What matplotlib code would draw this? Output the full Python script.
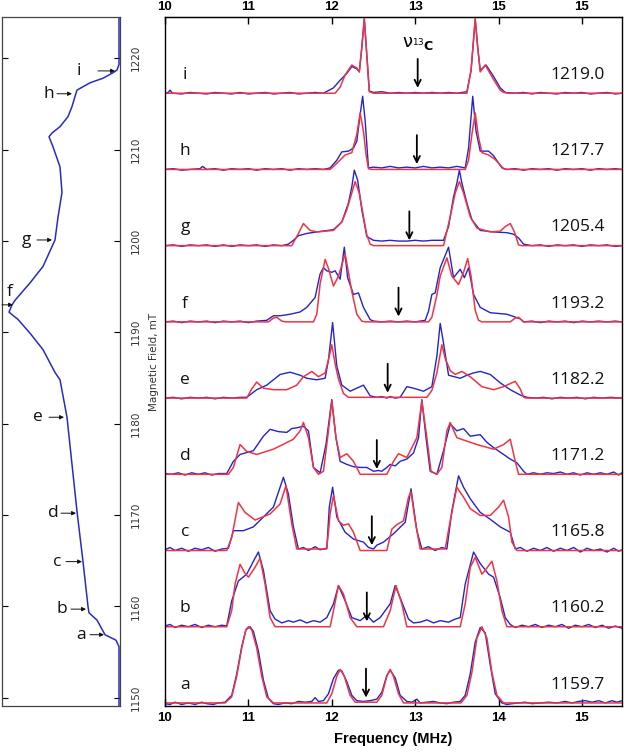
import matplotlib
matplotlib.use("Agg")
import matplotlib.pyplot as plt

# ---- left panel: field-swept spectrum (signal vs field, mT) ----
field_mT = [1149.0, 1155.6, 1156.3, 1156.9, 1158.5, 1159.3, 1160.0, 1164.9, 1170.4,
            1180.7, 1184.8, 1185.6, 1188.1, 1189.9, 1191.4, 1192.2, 1193.0, 1193.5,
            1195.4, 1197.2, 1200.1, 1202.6, 1205.3, 1208.1, 1210.3, 1211.4, 1211.8,
            1212.5, 1213.6, 1214.7, 1215.8, 1216.5, 1217.3, 1217.8, 1218.4, 1218.7,
            1219.3, 1225.0]
signal = [0.0, 0.0, 0.03, 0.14, 0.22, 0.30, 0.31, 0.36, 0.42,
          0.52, 0.59, 0.64, 0.76, 0.89, 1.01, 1.10, 1.07, 1.04,
          0.89, 0.76, 0.64, 0.61, 0.57, 0.59, 0.66, 0.70, 0.67,
          0.59, 0.51, 0.47, 0.44, 0.42, 0.29, 0.16, 0.06, 0.02,
          0.0, 0.0]
mark_letters = ["a", "b", "c", "d", "e", "f", "g", "h", "i"]
mark_text_sig = [0.38, 0.57, 0.62, 0.66, 0.81, 1.09, 0.93, 0.70, 0.40]
mark_text_fld = [1156.9, 1159.7, 1164.9, 1170.2, 1180.7, 1194.4, 1200.1, 1216.1, 1218.6]
mark_arrow_from = [0.29, 0.48, 0.53, 0.58, 0.70, 1.17, 0.82, 0.62, 0.21]
mark_arrow_to = [0.15, 0.33, 0.37, 0.43, 0.55, 1.06, 0.67, 0.47, 0.04]
mark_arrow_fld = [1156.9, 1159.7, 1164.9, 1170.2, 1180.7, 1193.0, 1200.1, 1216.1, 1218.6]

# ---- right panel: ENDOR spectra (experiment blue, simulation red) ----
panel_letters = ["a", "b", "c", "d", "e", "f", "g", "h", "i"]
panel_fields = ["1159.7", "1160.2", "1165.8", "1171.2", "1182.2", "1193.2", "1205.4", "1217.7", "1219.0"]
nu13c = [12.41, 12.42, 12.48, 12.54, 12.67, 12.80, 12.93, 13.02, 13.03]

red_a = [(10.0, 0), (10.72, 0), (10.8, 0.08), (10.86, 0.35), (10.92, 0.72), (10.97, 0.96), (11.0, 1.0),
         (11.04, 0.96), (11.1, 0.72), (11.16, 0.35), (11.22, 0.08), (11.3, 0), (11.94, 0), (12.0, 0.12),
         (12.06, 0.35), (12.1, 0.44), (12.15, 0.35), (12.22, 0.1), (12.28, 0.01), (12.54, 0.01), (12.6, 0.1),
         (12.66, 0.35), (12.7, 0.44), (12.74, 0.35), (12.8, 0.12), (12.86, 0), (13.55, 0), (13.62, 0.1),
         (13.68, 0.4), (13.74, 0.85), (13.8, 1.0), (13.86, 0.85), (13.92, 0.4), (13.98, 0.1), (14.06, 0),
         (15.48, 0)]
blue_a = [(10.0, -0.01), (10.06, -0.02), (10.12, 0.01), (10.2, -0.02), (10.28, 0.0), (10.36, -0.02),
          (10.44, 0.01), (10.5, -0.01), (10.58, -0.02), (10.64, 0.0), (10.72, 0.01), (10.8, 0.1),
          (10.86, 0.38), (10.92, 0.74), (10.97, 0.96), (11.02, 1.0), (11.06, 0.94), (11.12, 0.68),
          (11.18, 0.3), (11.24, 0.06), (11.3, -0.01), (11.36, -0.02), (11.44, 0.0), (11.52, -0.01),
          (11.6, 0.02), (11.68, 0.01), (11.76, 0.02), (11.8, 0.07), (11.84, 0.02), (11.9, 0.03),
          (11.96, 0.12), (12.02, 0.32), (12.08, 0.43), (12.12, 0.42), (12.18, 0.28), (12.24, 0.1),
          (12.3, 0.03), (12.38, 0.02), (12.46, 0.03), (12.54, 0.05), (12.6, 0.14), (12.66, 0.36),
          (12.7, 0.43), (12.76, 0.33), (12.82, 0.1), (12.9, 0.02), (12.96, 0.01), (13.02, 0.05),
          (13.06, 0.0), (13.14, 0.01), (13.22, 0.02), (13.3, 0.0), (13.38, -0.01), (13.46, 0.01),
          (13.54, 0.02), (13.6, 0.1), (13.66, 0.38), (13.72, 0.8), (13.78, 0.99), (13.84, 0.92),
          (13.9, 0.5), (13.96, 0.12), (14.04, 0.0), (14.1, -0.02), (14.16, -0.01), (14.24, 0.0),
          (14.32, 0.01), (14.4, -0.01), (14.5, 0.0), (14.6, 0.01), (14.7, 0.0), (14.8, 0.02),
          (14.88, 0.0), (14.96, 0.02), (15.04, 0.03), (15.12, 0.01), (15.2, 0.03), (15.28, 0.0),
          (15.36, 0.03), (15.42, 0.01), (15.48, 0.03)]

red_b = [(10.0, 0), (10.74, 0), (10.8, 0.21), (10.84, 0.56), (10.9, 0.82), (10.96, 0.7), (11.0, 0.65),
         (11.08, 0.78), (11.14, 0.9), (11.2, 0.56), (11.26, 0.12), (11.32, 0), (11.98, 0), (12.02, 0.21),
         (12.08, 0.54), (12.14, 0.43), (12.22, 0.12), (12.3, 0), (12.62, 0), (12.7, 0.21), (12.77, 0.54),
         (12.84, 0.3), (12.9, 0), (13.54, 0), (13.6, 0.3), (13.66, 0.78), (13.72, 0.91), (13.8, 0.69),
         (13.84, 0.74), (13.92, 0.86), (13.98, 0.6), (14.04, 0.21), (14.1, 0), (15.48, 0)]
blue_b = [(10.0, 0.01), (10.06, 0.03), (10.12, -0.01), (10.2, 0.02), (10.28, 0.0), (10.36, 0.03),
          (10.44, -0.01), (10.52, 0.02), (10.6, 0.0), (10.68, 0.02), (10.74, 0.01), (10.8, 0.34),
          (10.88, 0.6), (10.98, 0.69), (11.08, 0.9), (11.12, 0.98), (11.18, 0.74), (11.26, 0.21),
          (11.32, 0.1), (11.4, 0.05), (11.48, 0.08), (11.54, 0.06), (11.62, 0.09), (11.7, 0.05),
          (11.78, 0.08), (11.86, 0.06), (11.94, 0.12), (12.02, 0.3), (12.08, 0.54), (12.16, 0.34),
          (12.24, 0.12), (12.34, 0.08), (12.42, 0.15), (12.5, 0.06), (12.58, 0.12), (12.7, 0.3),
          (12.76, 0.54), (12.82, 0.38), (12.92, 0.1), (12.98, 0.05), (13.06, 0.06), (13.14, 0.09),
          (13.22, 0.05), (13.3, 0.08), (13.4, 0.06), (13.48, 0.1), (13.54, 0.12), (13.6, 0.56),
          (13.7, 0.98), (13.78, 0.83), (13.88, 0.69), (13.94, 0.65), (14.02, 0.38), (14.08, 0.12),
          (14.14, 0.03), (14.2, -0.01), (14.28, 0.02), (14.36, 0.0), (14.44, 0.03), (14.52, -0.01),
          (14.6, 0.02), (14.68, 0.0), (14.76, 0.03), (14.84, -0.02), (14.92, 0.02), (15.0, 0.0),
          (15.08, 0.03), (15.16, -0.01), (15.24, 0.02), (15.32, -0.02), (15.4, 0.01), (15.48, -0.02)]

red_c = [(10.0, 0), (10.74, 0), (10.8, 0.17), (10.88, 0.63), (10.96, 0.5), (11.08, 0.4), (11.26, 0.48),
         (11.38, 0.61), (11.45, 0.85), (11.52, 0.35), (11.58, 0.02), (11.94, 0.02), (11.98, 0.48),
         (12.02, 0.72), (12.08, 0.39), (12.14, 0.33), (12.2, 0.35), (12.26, 0.24), (12.34, 0),
         (12.66, 0), (12.72, 0.28), (12.78, 0.34), (12.86, 0.39), (12.92, 0.7), (12.95, 0.77),
         (13.0, 0.39), (13.06, 0.02), (13.36, 0.02), (13.42, 0.39), (13.5, 0.83), (13.58, 0.7),
         (13.66, 0.55), (13.78, 0.46), (13.9, 0.46), (14.0, 0.57), (14.06, 0.66), (14.12, 0.44),
         (14.16, 0.11), (14.22, 0), (15.48, 0)]
blue_c = [(10.0, 0.01), (10.06, 0.04), (10.12, 0.0), (10.2, 0.03), (10.28, -0.01), (10.36, 0.03),
          (10.44, 0.01), (10.52, 0.04), (10.6, -0.01), (10.68, 0.02), (10.76, 0.03), (10.82, 0.26),
          (10.94, 0.26), (11.06, 0.31), (11.18, 0.44), (11.3, 0.57), (11.42, 0.96), (11.48, 0.74),
          (11.54, 0.31), (11.6, 0.02), (11.66, 0.04), (11.72, 0.0), (11.8, 0.05), (11.86, 0.01),
          (11.94, 0.03), (11.97, 0.57), (12.01, 0.83), (12.06, 0.44), (12.16, 0.24), (12.26, 0.15),
          (12.38, 0.11), (12.44, 0.04), (12.5, 0.02), (12.54, 0.07), (12.62, 0.11), (12.74, 0.22),
          (12.88, 0.37), (12.95, 0.81), (13.02, 0.26), (13.08, 0.02), (13.16, 0.05), (13.24, 0.0),
          (13.32, 0.04), (13.38, 0.02), (13.44, 0.52), (13.52, 0.98), (13.58, 0.83), (13.66, 0.68),
          (13.78, 0.5), (13.9, 0.41), (14.02, 0.31), (14.14, 0.24), (14.2, 0.02), (14.26, 0.04),
          (14.34, -0.01), (14.42, 0.03), (14.5, 0.0), (14.58, 0.04), (14.66, -0.01), (14.74, 0.03),
          (14.82, 0.0), (14.9, 0.04), (14.98, -0.02), (15.06, 0.03), (15.14, 0.0), (15.22, 0.02),
          (15.3, -0.02), (15.38, 0.03), (15.44, -0.01), (15.48, 0.01)]

red_d = [(10.0, 0), (10.76, 0), (10.82, 0.09), (10.9, 0.39), (10.98, 0.3), (11.1, 0.26), (11.3, 0.33),
         (11.54, 0.46), (11.62, 0.57), (11.66, 0.68), (11.72, 0.48), (11.78, 0.09), (11.84, 0),
         (11.9, 0.04), (11.95, 0.48), (12.0, 0.96), (12.05, 0.48), (12.1, 0.22), (12.18, 0.27),
         (12.26, 0.17), (12.34, 0), (12.66, 0), (12.74, 0.17), (12.8, 0.27), (12.9, 0.22),
         (13.02, 0.48), (13.08, 0.96), (13.14, 0.48), (13.19, 0.04), (13.26, 0), (13.32, 0.09),
         (13.38, 0.57), (13.42, 0.68), (13.5, 0.48), (13.74, 0.39), (13.94, 0.33), (14.06, 0.39),
         (14.14, 0.46), (14.2, 0.17), (14.24, 0), (15.48, 0)]
blue_d = [(10.0, 0.01), (10.08, 0.0), (10.16, 0.02), (10.24, -0.01), (10.32, 0.02), (10.4, 0.0),
          (10.48, 0.02), (10.56, -0.01), (10.64, 0.01), (10.74, 0.01), (10.82, 0.17), (10.9, 0.26),
          (11.06, 0.31), (11.18, 0.5), (11.26, 0.59), (11.36, 0.56), (11.46, 0.55), (11.52, 0.6),
          (11.58, 0.61), (11.66, 0.63), (11.72, 0.57), (11.78, 0.09), (11.86, 0.02), (11.93, 0.39),
          (12.0, 0.98), (12.05, 0.48), (12.1, 0.17), (12.18, 0.13), (12.26, 0.1), (12.34, 0.09),
          (12.42, 0.09), (12.5, 0.04), (12.56, 0.05), (12.6, 0.04), (12.66, 0.09), (12.7, 0.13),
          (12.76, 0.11), (12.82, 0.17), (12.9, 0.2), (12.98, 0.28), (13.04, 0.48), (13.08, 0.98),
          (13.13, 0.48), (13.18, 0.04), (13.26, 0.0), (13.34, 0.31), (13.42, 0.66), (13.5, 0.57),
          (13.58, 0.6), (13.66, 0.5), (13.78, 0.52), (13.86, 0.42), (13.94, 0.35), (14.06, 0.26),
          (14.14, 0.2), (14.22, 0.15), (14.3, 0.04), (14.34, 0.0), (14.42, 0.02), (14.5, 0.0),
          (14.58, 0.02), (14.66, 0.01), (14.74, 0.03), (14.82, 0.0), (14.9, 0.02), (14.98, -0.01),
          (15.06, 0.02), (15.14, 0.0), (15.22, 0.02), (15.3, 0.0), (15.38, 0.03), (15.44, -0.01),
          (15.48, 0.02)]

red_e = [(10.0, 0), (10.98, 0), (11.04, 0.12), (11.1, 0.21), (11.18, 0.13), (11.3, 0.11),
         (11.46, 0.11), (11.58, 0.17), (11.66, 0.28), (11.76, 0.35), (11.84, 0.28), (11.92, 0.33),
         (11.97, 0.55), (12.0, 0.7), (12.04, 0.45), (12.08, 0.25), (12.14, 0.06), (12.2, 0.01),
         (13.14, 0.01), (13.2, 0.1), (13.26, 0.33), (13.32, 0.7), (13.36, 0.52), (13.42, 0.36),
         (13.48, 0.31), (13.56, 0.35), (13.66, 0.28), (13.8, 0.15), (13.94, 0.11), (14.06, 0.15),
         (14.2, 0.22), (14.26, 0.12), (14.3, 0.01), (14.34, 0), (15.48, 0)]
blue_e = [(10.0, 0.0), (10.1, 0.01), (10.2, -0.01), (10.3, 0.01), (10.4, 0.0), (10.5, 0.01),
          (10.6, -0.01), (10.7, 0.01), (10.8, 0.0), (10.9, 0.01), (10.98, 0.01), (11.1, 0.11),
          (11.22, 0.17), (11.38, 0.31), (11.5, 0.34), (11.62, 0.3), (11.7, 0.26), (11.82, 0.24),
          (11.92, 0.26), (11.96, 0.5), (12.01, 0.99), (12.06, 0.42), (12.12, 0.17), (12.22, 0.09),
          (12.3, 0.13), (12.38, 0.17), (12.46, 0.03), (12.54, 0.01), (12.6, 0.02), (12.66, 0.0),
          (12.7, 0.02), (12.76, 0.0), (12.82, 0.01), (12.9, 0.15), (12.98, 0.13), (13.1, 0.09),
          (13.2, 0.15), (13.26, 0.55), (13.3, 0.98), (13.34, 0.72), (13.4, 0.3), (13.54, 0.26),
          (13.62, 0.3), (13.7, 0.33), (13.78, 0.35), (13.9, 0.31), (14.02, 0.2), (14.14, 0.11),
          (14.26, 0.04), (14.34, 0.01), (14.44, 0.0), (14.54, 0.01), (14.64, -0.01), (14.74, 0.01),
          (14.84, 0.0), (14.94, 0.01), (15.04, -0.01), (15.14, 0.01), (15.24, 0.0), (15.34, 0.01),
          (15.48, 0.0)]

red_f = [(10.0, 0), (11.24, 0), (11.3, 0.05), (11.34, 0.06), (11.4, 0.01), (11.45, 0), (11.78, 0),
         (11.82, 0.1), (11.86, 0.5), (11.92, 0.82), (11.96, 0.7), (12.02, 0.47), (12.08, 0.6),
         (12.16, 0.89), (12.2, 0.65), (12.24, 0.4), (12.3, 0.1), (12.36, 0.01), (12.4, 0),
         (13.16, 0), (13.2, 0.06), (13.26, 0.35), (13.3, 0.6), (13.38, 0.84), (13.44, 0.6),
         (13.52, 0.49), (13.58, 0.65), (13.63, 0.83), (13.67, 0.6), (13.72, 0.15), (13.76, 0.02),
         (13.8, 0), (14.14, 0), (14.2, 0.05), (14.24, 0.06), (14.3, 0), (15.48, 0)]
blue_f = [(10.0, 0.0), (10.1, 0.01), (10.2, -0.01), (10.3, 0.01), (10.4, 0.0), (10.5, 0.01),
          (10.6, -0.01), (10.7, 0.01), (10.8, 0.0), (10.9, 0.01), (11.0, -0.01), (11.1, 0.01),
          (11.22, 0.02), (11.3, 0.08), (11.38, 0.08), (11.5, 0.1), (11.62, 0.13), (11.7, 0.19),
          (11.8, 0.32), (11.86, 0.63), (11.9, 0.71), (11.94, 0.67), (12.0, 0.65), (12.04, 0.67),
          (12.1, 0.56), (12.15, 0.98), (12.19, 0.58), (12.26, 0.36), (12.32, 0.38), (12.38, 0.19),
          (12.46, 0.03), (12.5, 0.01), (12.6, 0.0), (12.7, 0.01), (12.8, 0.0), (12.9, 0.01),
          (13.0, 0.0), (13.12, 0.02), (13.16, 0.14), (13.2, 0.36), (13.24, 0.38), (13.3, 0.71),
          (13.4, 0.98), (13.46, 0.58), (13.54, 0.69), (13.59, 0.58), (13.64, 0.71), (13.7, 0.36),
          (13.78, 0.19), (13.9, 0.12), (14.1, 0.1), (14.26, 0.04), (14.3, 0.0), (14.4, 0.01),
          (14.5, -0.01), (14.6, 0.01), (14.7, 0.0), (14.8, 0.01), (14.9, -0.01), (15.0, 0.01),
          (15.1, 0.0), (15.2, 0.01), (15.3, 0.0), (15.4, 0.01), (15.48, 0.0)]

red_g = [(10.0, 0), (11.52, 0), (11.6, 0.16), (11.66, 0.29), (11.74, 0.2), (11.82, 0.18),
         (12.02, 0.2), (12.12, 0.31), (12.18, 0.47), (12.24, 0.69), (12.28, 0.84), (12.33, 0.69),
         (12.38, 0.38), (12.42, 0.14), (12.46, 0.02), (12.5, 0), (13.34, 0), (13.42, 0.38),
         (13.48, 0.69), (13.53, 0.84), (13.58, 0.69), (13.66, 0.38), (13.74, 0.23), (13.9, 0.18),
         (14.02, 0.19), (14.08, 0.25), (14.14, 0.29), (14.19, 0.18), (14.24, 0.01), (14.28, 0),
         (15.48, 0)]
blue_g = [(10.0, 0.0), (10.1, 0.01), (10.2, -0.01), (10.3, 0.01), (10.4, 0.0), (10.5, 0.01),
          (10.6, -0.01), (10.7, 0.01), (10.8, -0.01), (10.9, 0.01), (11.0, 0.0), (11.1, 0.01),
          (11.2, -0.01), (11.3, 0.01), (11.4, 0.0), (11.48, 0.02), (11.54, 0.07), (11.6, 0.13),
          (11.7, 0.16), (11.82, 0.18), (12.02, 0.21), (12.12, 0.31), (12.2, 0.56), (12.24, 0.77),
          (12.27, 0.99), (12.31, 0.86), (12.36, 0.47), (12.42, 0.12), (12.5, 0.07), (12.6, 0.06),
          (12.7, 0.07), (12.8, 0.06), (12.9, 0.06), (13.0, 0.07), (13.1, 0.06), (13.2, 0.07),
          (13.34, 0.07), (13.4, 0.25), (13.46, 0.64), (13.5, 0.82), (13.53, 0.99), (13.56, 0.82),
          (13.62, 0.56), (13.68, 0.34), (13.78, 0.2), (13.94, 0.18), (14.1, 0.17), (14.18, 0.15),
          (14.24, 0.1), (14.3, 0.02), (14.4, 0.0), (14.5, 0.01), (14.6, -0.01), (14.7, 0.01),
          (14.8, 0.0), (14.9, 0.01), (15.0, -0.01), (15.1, 0.01), (15.2, 0.0), (15.3, 0.01),
          (15.4, -0.01), (15.48, 0.0)]

red_h = [(10.0, 0), (11.98, 0), (12.06, 0.08), (12.16, 0.19), (12.24, 0.22), (12.3, 0.46),
         (12.34, 0.74), (12.38, 0.5), (12.41, 0.2), (12.44, 0.01), (12.48, 0), (13.6, 0),
         (13.64, 0.12), (13.68, 0.46), (13.72, 0.74), (13.76, 0.42), (13.8, 0.22), (13.88, 0.19),
         (13.96, 0.13), (14.06, 0.01), (14.1, 0), (15.48, 0)]
blue_h = [(10.0, 0.0), (10.1, 0.01), (10.2, -0.01), (10.3, 0.0), (10.42, 0.01), (10.45, 0.04),
          (10.5, 0.0), (10.6, 0.01), (10.7, -0.01), (10.8, 0.01), (10.9, 0.0), (11.0, 0.01),
          (11.1, -0.01), (11.2, 0.01), (11.3, 0.0), (11.4, 0.01), (11.5, -0.01), (11.6, 0.01),
          (11.7, 0.0), (11.8, 0.01), (11.9, 0.0), (11.98, 0.02), (12.06, 0.12), (12.12, 0.23),
          (12.2, 0.24), (12.26, 0.28), (12.3, 0.37), (12.34, 0.72), (12.37, 0.96), (12.4, 0.64),
          (12.44, 0.02), (12.5, 0.03), (12.6, 0.02), (12.7, 0.04), (12.8, 0.02), (12.9, 0.03),
          (13.0, 0.02), (13.1, 0.04), (13.2, 0.02), (13.3, 0.03), (13.4, 0.02), (13.5, 0.04),
          (13.6, 0.02), (13.64, 0.28), (13.69, 0.96), (13.73, 0.5), (13.78, 0.24), (13.88, 0.24),
          (13.94, 0.18), (14.04, 0.02), (14.1, 0.0), (14.2, 0.01), (14.3, -0.01), (14.4, 0.01),
          (14.5, 0.0), (14.6, 0.01), (14.7, -0.01), (14.8, 0.01), (14.9, 0.0), (15.0, 0.01),
          (15.1, -0.01), (15.2, 0.01), (15.3, 0.0), (15.4, 0.01), (15.48, 0.0)]

red_i = [(10.0, 0), (12.04, 0), (12.1, 0.08), (12.16, 0.24), (12.24, 0.37), (12.3, 0.33),
         (12.33, 0.28), (12.36, 0.6), (12.39, 0.98), (12.42, 0.5), (12.45, 0.02), (12.5, 0),
         (13.62, 0), (13.67, 0.3), (13.72, 0.98), (13.75, 0.6), (13.78, 0.28), (13.84, 0.37),
         (13.94, 0.18), (14.02, 0.04), (14.06, 0.01), (14.12, 0), (15.48, 0)]
blue_i = [(10.0, 0.0), (10.04, 0.01), (10.06, 0.04), (10.09, 0.0), (10.2, -0.01), (10.3, 0.01),
          (10.4, 0.0), (10.5, -0.01), (10.6, 0.01), (10.7, 0.0), (10.8, -0.01), (10.9, 0.01),
          (11.0, -0.01), (11.1, 0.0), (11.2, 0.01), (11.3, -0.01), (11.4, 0.0), (11.5, 0.01),
          (11.6, -0.01), (11.7, 0.0), (11.8, 0.01), (11.9, 0.0), (12.02, 0.07), (12.1, 0.17),
          (12.18, 0.26), (12.24, 0.35), (12.3, 0.32), (12.33, 0.28), (12.36, 0.6), (12.39, 0.97),
          (12.42, 0.5), (12.45, 0.03), (12.5, 0.01), (12.6, 0.02), (12.7, 0.0), (12.8, 0.01),
          (12.9, 0.0), (13.0, 0.01), (13.1, 0.0), (13.2, 0.01), (13.3, 0.0), (13.4, 0.01),
          (13.5, 0.0), (13.62, 0.02), (13.67, 0.3), (13.72, 0.97), (13.75, 0.6), (13.78, 0.3),
          (13.85, 0.37), (13.94, 0.22), (14.02, 0.07), (14.08, 0.01), (14.2, 0.0), (14.3, 0.01),
          (14.4, -0.01), (14.5, 0.01), (14.6, 0.0), (14.7, -0.01), (14.8, 0.01), (14.9, 0.0),
          (15.0, 0.01), (15.1, -0.01), (15.2, 0.0), (15.3, 0.01), (15.4, -0.01), (15.48, 0.0)]

red_traces = [red_a, red_b, red_c, red_d, red_e, red_f, red_g, red_h, red_i]
blue_traces = [blue_a, blue_b, blue_c, blue_d, blue_e, blue_f, blue_g, blue_h, blue_i]

top_tick_labels = ["10", "11", "12", "13", "15", "15"]
bottom_tick_labels = ["10", "11", "12", "13", "14", "15"]
freq_ticks = [10, 11, 12, 13, 14, 15]

BLUE = "#2424cc"
RED = "#f03444"


def main():
    fig = plt.figure(figsize=(6.27, 7.53), dpi=100)

    # left panel
    axl = fig.add_axes([2 / 627, 47 / 753, 118 / 627, 689 / 753])
    axl.plot(signal, field_mT, color="#2a2ac8", lw=1.1, solid_joinstyle="round")
    axl.set_xlim(1.17, -0.01)
    axl.set_ylim(1149.1, 1224.5)
    axl.set_xticks([])
    axl.set_yticks([1150, 1160, 1170, 1180, 1190, 1200, 1210, 1220])
    axl.yaxis.tick_right()
    axl.tick_params(axis="y", direction="in", length=4, left=True, right=True,
                    labelleft=False, labelright=True, labelsize=7.5,
                    labelcolor="#333333", labelrotation=90, pad=8)
    for lab in axl.get_yticklabels():
        lab.set_va("center")
    axl.yaxis.set_label_position("right")
    axl.set_ylabel("Magnetic Field, mT", fontsize=7.5, color="#333333", labelpad=6)
    for sp in axl.spines.values():
        sp.set_color("#444444")
        sp.set_linewidth(0.9)

    for k, letter in enumerate(mark_letters):
        axl.text(mark_text_sig[k], mark_text_fld[k], letter, fontsize=12.5,
                 family="Open Sans", ha="center", va="center", color="#111111")
        axl.annotate("", xy=(mark_arrow_to[k], mark_arrow_fld[k]),
                     xytext=(mark_arrow_from[k], mark_arrow_fld[k]),
                     arrowprops=dict(arrowstyle="-|>", lw=0.7, color="#111111",
                                     mutation_scale=6, shrinkA=0, shrinkB=0))

    # right panel
    ax = fig.add_axes([165 / 627, 47 / 753, 457 / 627, 689 / 753])
    for k in range(len(panel_letters)):
        bx = [p[0] for p in blue_traces[k]]
        by = [k + p[1] for p in blue_traces[k]]
        rx = [p[0] for p in red_traces[k]]
        ry = [k + p[1] for p in red_traces[k]]
        ax.plot(bx, by, color=BLUE, lw=1.0, solid_joinstyle="round")
        ax.plot(rx, ry, color=RED, lw=1.1, solid_joinstyle="round")
        ax.text(10.24, k + 0.24, panel_letters[k], fontsize=12.5, family="Open Sans",
                ha="center", va="center", color="#111111")
        ax.text(15.27, k + 0.24, panel_fields[k], fontsize=12.5, family="Open Sans",
                ha="right", va="center", color="#111111")
        ax.annotate("", xy=(nu13c[k], k + 0.07), xytext=(nu13c[k], k + 0.45),
                    arrowprops=dict(arrowstyle="->", lw=1.3, color="black",
                                    mutation_scale=11, shrinkA=0, shrinkB=0))

    ax.text(nu13c[-1], 8.66, r"ν$_{{}^{13}\mathbf{C}}$", fontsize=13,
            ha="center", va="center")

    ax.set_xlim(10, 15.48)
    ax.set_ylim(-0.04, 9.0)
    ax.set_yticks([])
    ax.set_xticks(freq_ticks)
    ax.set_xticklabels(bottom_tick_labels)
    ax.tick_params(axis="x", direction="in", length=5, width=1, labelsize=9.5, pad=4)
    for lab in ax.get_xticklabels():
        lab.set_fontweight("bold")
        lab.set_family("Liberation Sans")
    ax.set_xlabel("Frequency (MHz)", fontsize=10.5, fontweight="bold",
                  family="Liberation Sans", labelpad=6)

    top = ax.secondary_xaxis("top")
    top.set_xticks(freq_ticks)
    top.set_xticklabels(top_tick_labels)
    top.tick_params(direction="in", length=5, width=1, labelsize=9.5, pad=3)
    for lab in top.get_xticklabels():
        lab.set_fontweight("bold")
        lab.set_family("Liberation Sans")

    for sp in ax.spines.values():
        sp.set_linewidth(1.0)

    fig.savefig("out.png", dpi=100)


if __name__ == "__main__":
    main()
